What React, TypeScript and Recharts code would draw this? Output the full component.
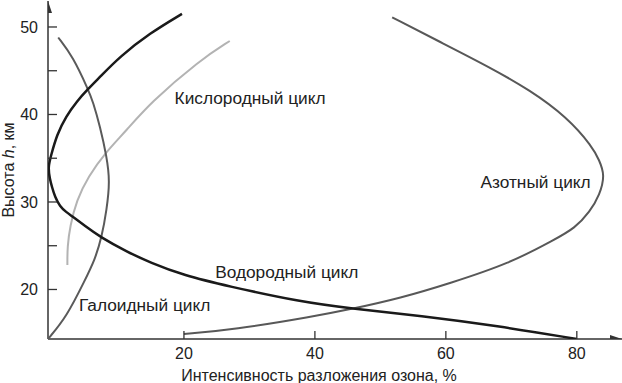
import { ScatterChart, Scatter, XAxis, YAxis, ReferenceDot } from 'recharts';

// intensity (%) vs height (km)
const hydrogen: [number, number][] = [
  [19.7, 51.5], [14.8, 49.3], [10.2, 46.6], [7.2, 44.3], [5.2, 42.8], [3.65, 41.5],
  [2.0, 39.8], [0.6, 37.7], [-0.3, 35.3], [-0.75, 34.0], [-0.5, 32.7], [-0.15, 31.7],
  [0.3, 30.6], [1.05, 29.5], [2.0, 28.85], [3.05, 28.3], [4.9, 27.25], [7.2, 26.0],
  [11.3, 24.3], [14.8, 23.1], [20.0, 21.6], [26.6, 20.4], [37.7, 18.6], [45.8, 17.8],
  [56.0, 17.0], [68.2, 15.8], [80.0, 14.34],
];
const halogen: [number, number][] = [
  [0.8, 48.8], [3.05, 46.6], [5.4, 42.8], [6.1, 41.5], [7.2, 38.6], [8.2, 35.2],
  [8.7, 32.4], [8.2, 29.1], [7.45, 26.0], [6.4, 23.4], [4.9, 21.1], [2.1, 16.9], [-0.76, 14.34],
];
const oxygen: [number, number][] = [
  [2.2, 22.8], [2.2, 24.9], [2.6, 27.2], [3.6, 30.2], [5.4, 32.9], [7.95, 35.6],
  [11.25, 38.2], [14.8, 41.3], [22.4, 46.2], [27.0, 48.4],
];
const nitrogen: [number, number][] = [
  [20.0, 14.9], [27.5, 15.4], [39.7, 16.9], [45.8, 17.8], [53.0, 19.0], [60.6, 20.7],
  [69.8, 23.0], [76.6, 25.7], [79.7, 27.0], [82.0, 28.9], [83.5, 30.8], [84.3, 33.1],
  [83.4, 34.8], [82.4, 36.3], [78.5, 39.7], [72.8, 42.8], [66.7, 45.4], [59.1, 48.3], [51.8, 51.1],
];

const xTicks = [20, 40, 60, 80];
const yTicks = [20, 25, 30, 35, 40, 45, 50];
const xDomain: [number, number] = [-0.76, 86.9];
const yDomain: [number, number] = [14.34, 52.97];

const toPts = (arr: [number, number][]) => arr.map(([x, h]) => ({ x, h }));
const arrows = [
  { x: xDomain[1], h: yDomain[0], dir: 'right' },
  { x: xDomain[0], h: yDomain[1], dir: 'up' },
];

const FONT = '"Liberation Sans", Arial, sans-serif';
const TXT = '#222';
const AXIS = '#333';

const XTick = ({ x, y, payload }: any) => (
  <g>
    <line x1={x} y1={y} x2={x} y2={y - 8} stroke={AXIS} strokeWidth={1.3} />
    <text x={x} y={y + 14} dy="0.355em" textAnchor="middle" fontSize={16} fill={TXT} fontFamily={FONT}>
      {payload.value}
    </text>
  </g>
);

const YTick = ({ x, y, payload }: any) => (
  <g>
    <line x1={x} y1={y} x2={x + 9} y2={y} stroke={AXIS} strokeWidth={1.3} />
    {payload.value % 10 === 0 && (
      <text x={x - 10} y={y} dy="0.355em" textAnchor="end" fontSize={16} fill={TXT} fontFamily={FONT}>
        {payload.value}
      </text>
    )}
  </g>
);

const Arrow = ({ cx, cy, payload }: any) =>
  payload.dir === 'right' ? (
    <path d={`M${cx},${cy} L${cx - 12},${cy - 4} L${cx - 12},${cy + 4} Z`} fill={AXIS} />
  ) : (
    <path d={`M${cx},${cy} L${cx - 4},${cy + 12} L${cx + 4},${cy + 12} Z`} fill={AXIS} />
  );

const noDot = () => <g />;

const curveLabel = (value: string) => ({
  value,
  position: 'center' as const,
  fontSize: 17.3,
  fill: TXT,
  fontFamily: FONT,
});

export default function App() {
  return (
    <div style={{ position: 'absolute', left: 0, top: 0, width: 622, height: 383, fontFamily: FONT, background: '#fff' }}>
      <ScatterChart width={622} height={383} margin={{ top: 1, right: 0, left: 0, bottom: 0 }}>
        <XAxis
          type="number"
          dataKey="x"
          domain={xDomain}
          ticks={xTicks}
          interval={0}
          height={44}
          tickSize={0}
          tickMargin={0}
          tick={<XTick />}
          axisLine={{ stroke: AXIS, strokeWidth: 1.5 }}
          allowDataOverflow
        />
        <YAxis
          type="number"
          dataKey="h"
          domain={yDomain}
          ticks={yTicks}
          interval={0}
          width={48}
          tickSize={0}
          tickMargin={0}
          tick={<YTick />}
          axisLine={{ stroke: AXIS, strokeWidth: 1.5 }}
          allowDataOverflow
        />
        <Scatter data={toPts(oxygen)} line={{ stroke: '#b3b3b3', strokeWidth: 2 }} lineJointType="basis" shape={noDot} isAnimationActive={false} />
        <Scatter data={toPts(nitrogen)} line={{ stroke: '#585858', strokeWidth: 2 }} lineJointType="basis" shape={noDot} isAnimationActive={false} />
        <Scatter data={toPts(halogen)} line={{ stroke: '#5a5a5a', strokeWidth: 2 }} lineJointType="basis" shape={noDot} isAnimationActive={false} />
        <Scatter data={toPts(hydrogen)} line={{ stroke: '#1a1a1a', strokeWidth: 2.5 }} lineJointType="basis" shape={noDot} isAnimationActive={false} />
        <Scatter data={arrows} shape={<Arrow />} isAnimationActive={false} />
        <ReferenceDot x={30.1} y={41.9} r={0} stroke="none" label={curveLabel('Кислородный цикл')} />
        <ReferenceDot x={73.7} y={32.3} r={0} stroke="none" label={curveLabel('Азотный цикл')} />
        <ReferenceDot x={35.7} y={22.0} r={0} stroke="none" label={curveLabel('Водородный цикл')} />
        <ReferenceDot x={14.0} y={18.2} r={0} stroke="none" label={curveLabel('Галоидный цикл')} />
      </ScatterChart>
      <svg width={622} height={383} style={{ position: 'absolute', left: 0, top: 0, pointerEvents: 'none' }}>
        <text transform="translate(14,170) rotate(-90)" textAnchor="middle" fontSize={16} fill={TXT} fontFamily={FONT}>
          Высота <tspan fontStyle="italic">h</tspan>, км
        </text>
        <text x={319} y={375} dy="0.355em" textAnchor="middle" fontSize={16} fill={TXT} fontFamily={FONT}>
          Интенсивность разложения озона, %
        </text>
      </svg>
    </div>
  );
}
